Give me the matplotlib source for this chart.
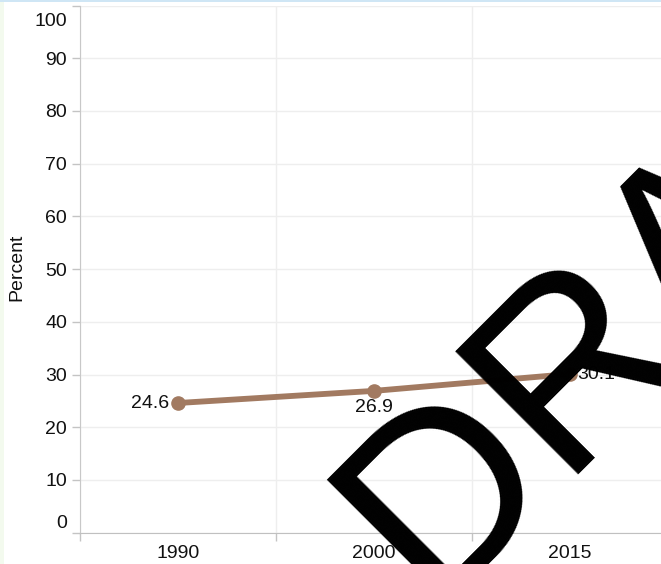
import matplotlib
matplotlib.use('Agg')
import matplotlib.pyplot as plt
import matplotlib.transforms as mtransforms
from matplotlib.patches import Rectangle

years = ['1990', '2000', '2015']
percent = [24.6, 26.9, 30.1]
y_ticks = list(range(0, 101, 10))

plt.rcParams['font.family'] = ['Liberation Sans', 'DejaVu Sans']

W, H = 661, 564
fig = plt.figure(figsize=(W / 100, H / 100), dpi=100)

# plot area: left edge 80px, top 5.5px, bottom 532.7px; bands ~196px wide (4th band runs off the image)
ax = fig.add_axes([80 / W, 1 - 532.7 / H, 784 / W, (532.7 - 5.5) / H])

x = list(range(len(years)))
ax.plot(x, percent, color='#a27a61', lw=4.2, marker='o', ms=9.5,
        solid_capstyle='round', zorder=3, clip_on=False)

ax.set_xlim(-0.5, 3.5)
ax.set_ylim(0, 100)

# y axis
ax.set_yticks(y_ticks)
ax.set_yticklabels([str(v) for v in y_ticks])
ax.tick_params(axis='y', length=5.8, width=1, color='#c4c4c4', pad=3.6,
               labelsize=14, labelcolor='#111111')
ax.yaxis.grid(True, color='#eeeeee', lw=1)

# end labels pushed inward like the original
labels = ax.get_yticklabels()
labels[0].set_transform(labels[0].get_transform() +
                        mtransforms.ScaledTranslation(0, 11.7 / 100, fig.dpi_scale_trans))
labels[-1].set_transform(labels[-1].get_transform() +
                         mtransforms.ScaledTranslation(0, -13.5 / 100, fig.dpi_scale_trans))

# x axis: labels at band centres, ticks/grid at band edges
ax.set_xticks(x)
ax.set_xticklabels(years)
ax.set_xticks([-0.5, 0.5, 1.5, 2.5, 3.5], minor=True)
ax.tick_params(axis='x', which='major', length=0, pad=8.6, labelsize=14, labelcolor='#111111')
ax.tick_params(axis='x', which='minor', length=5.8, width=1, color='#c4c4c4')
ax.xaxis.grid(True, which='minor', color='#eeeeee', lw=1)
ax.set_axisbelow(True)

for s in ['top', 'right']:
    ax.spines[s].set_visible(False)
ax.spines['left'].set_color('#c8c8c8')
ax.spines['bottom'].set_color('#c0c0c0')
ax.spines['bottom'].set_linestyle((0, (3, 1)))

# point labels
ax.annotate('24.6', (x[0], percent[0]), xytext=(-6.5, 0), textcoords='offset points',
            ha='right', va='center', fontsize=14, color='#111111')
ax.annotate('26.9', (x[1], percent[1]), xytext=(0, -5.5), textcoords='offset points',
            ha='center', va='top', fontsize=14, color='#111111')
ax.annotate('30.1', (x[2], percent[2]), xytext=(5, 0), textcoords='offset points',
            ha='left', va='center', fontsize=14, color='#111111')

fig.text(17 / W, 1 - 267 / H, 'Percent', rotation=90, ha='center', va='center',
         fontsize=14, color='#111111')

# page decorations
fig.add_artist(Rectangle((0, 1 - 2 / H), 1, 2 / H, transform=fig.transFigure,
                         color='#cfe6f5', lw=0))
fig.add_artist(Rectangle((0, 0), 4 / W, 1 - 2 / H, transform=fig.transFigure,
                         color='#f3faee', lw=0))

# watermark
fig.text(429 / W, 1 - 603 / H, 'DRAFT', rotation=45, rotation_mode='anchor',
         ha='left', va='baseline', fontsize=182, color='black', zorder=10)

fig.savefig('out.png', dpi=100)
